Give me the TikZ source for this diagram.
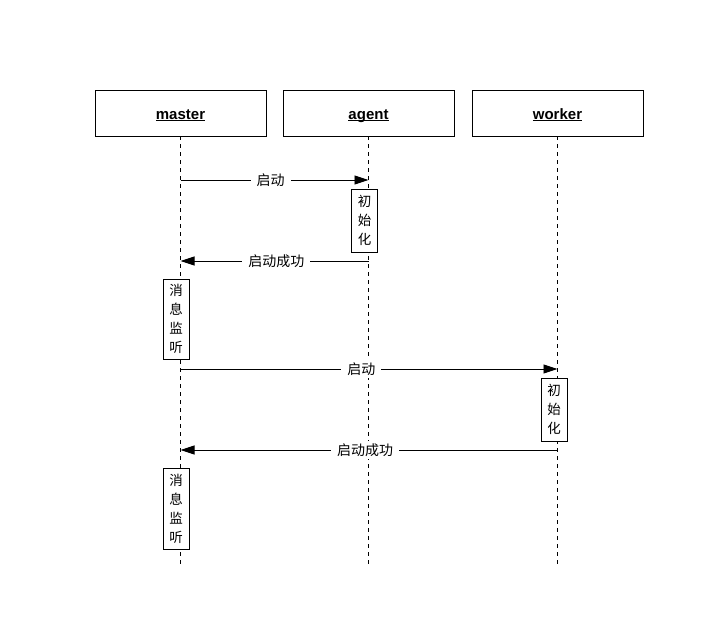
\documentclass[tikz,border=0pt]{standalone}
\usepackage{fontspec}
\setmainfont{Liberation Sans}
\newfontfamily\cjk{Noto Sans CJK SC}
\usetikzlibrary{arrows.meta}
\newcommand\hdul[1]{\underline{\smash{#1}}}
\begin{document}
\begin{tikzpicture}[x=1pt,y=-1pt,
  head/.style={draw,line width=0.8pt,minimum width=171pt,minimum height=46pt,inner sep=0pt,font=\fontsize{15}{18}\selectfont\bfseries},
  life/.style={dashed,dash pattern=on 4pt off 4pt,line width=0.7pt},
  act/.style={draw,fill=white,line width=0.8pt,inner sep=0pt,minimum width=26pt},
  msg/.style={line width=0.8pt,-{Triangle[length=14pt,width=9pt]}},
  lbl/.style={fill=white,inner xsep=6pt,inner ysep=3pt,font=\cjk\fontsize{14}{16}\selectfont},
  actxt/.style={font=\cjk\fontsize{13.5}{16}\selectfont,align=center}
]
\useasboundingbox (0,0) rectangle (716,640);
\node[head] (master) at (180.5,113) {};
\node[head] (agent) at (368.5,113) {};
\node[head] (worker) at (557.5,113) {};
\node[font=\fontsize{15}{18}\selectfont\bfseries,anchor=base,inner sep=0pt] (mt) at (180.5,119) {\hdul{master}};
\node[font=\fontsize{15}{18}\selectfont\bfseries,anchor=base,inner sep=0pt] (at) at (368.5,119) {\hdul{agent}};
\node[font=\fontsize{15}{18}\selectfont\bfseries,anchor=base,inner sep=0pt] (wt) at (557.5,119) {\hdul{worker}};
\coordinate (mEnd) at (180.5,565);
\coordinate (aEnd) at (368.5,565);
\coordinate (wEnd) at (557.5,565);
\draw[life] (master.south) -- (mEnd);
\draw[life] (agent.south) -- (aEnd);
\draw[life] (worker.south) -- (wEnd);
% coordinates on lifelines
\coordinate (m1) at (180.5,180);
\coordinate (a1) at (368.5,180);
\coordinate (a2) at (368.5,261);
\coordinate (m2) at (180.5,261);
\coordinate (m3) at (180.5,369);
\coordinate (w3) at (557.5,369);
\coordinate (w4) at (557.5,450);
\coordinate (m4) at (180.5,450);
% activation boxes
\node[act,minimum height=63pt] (actA) at (364.5,220.5) {};
\node[actxt] (actAt) at (actA) {初\\[3pt]始\\[3pt]化};
\node[act,minimum height=80pt] (actM1) at (176,319) {};
\node[actxt] (actM1t) at (actM1) {消\\[3pt]息\\[3pt]监\\[3pt]听};
\node[act,minimum height=63pt] (actW) at (554,409.5) {};
\node[actxt] (actWt) at (actW) {初\\[3pt]始\\[3pt]化};
\node[act,minimum height=81pt] (actM2) at (176,508.5) {};
\node[actxt] (actM2t) at (actM2) {消\\[3pt]息\\[3pt]监\\[3pt]听};
% messages
\draw[msg] (m1) -- node[lbl,pos=0.48] (l1) {启动} (a1);
\draw[msg] (a2) -- node[lbl,pos=0.49] (l2) {启动成功} (m2);
\draw[msg] (m3) -- node[lbl,pos=0.48] (l3) {启动} (w3);
\draw[msg] (w4) -- node[lbl,pos=0.51] (l4) {启动成功} (m4);
\end{tikzpicture}
\end{document}
